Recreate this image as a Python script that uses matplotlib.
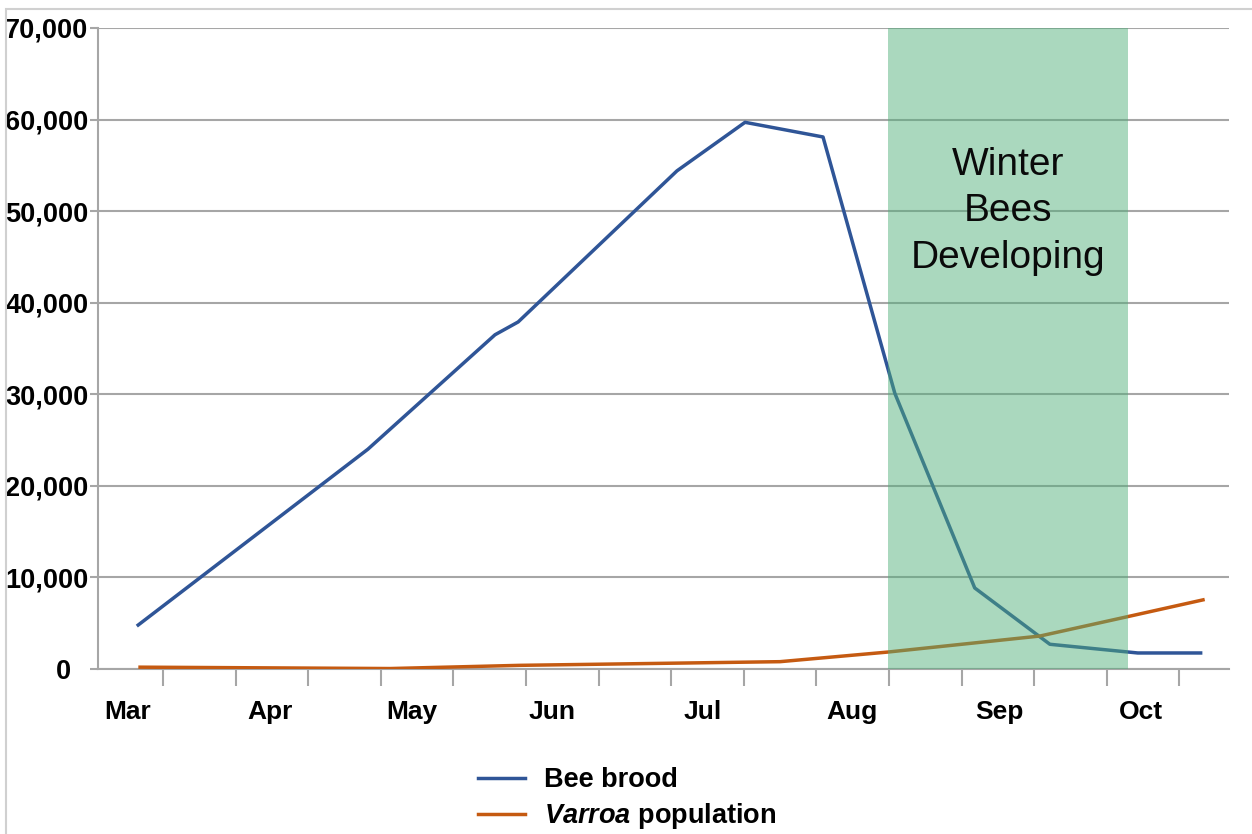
import matplotlib
matplotlib.use("Agg")
import matplotlib.pyplot as plt
from matplotlib.lines import Line2D
from matplotlib.patches import Rectangle
from matplotlib.transforms import ScaledTranslation

plt.rcParams['font.family'] = ['Liberation Sans', 'DejaVu Sans']
plt.rcParams['mathtext.fontset'] = 'custom'
plt.rcParams['mathtext.rm'] = 'Liberation Sans'
plt.rcParams['mathtext.it'] = 'Liberation Sans:italic'
plt.rcParams['mathtext.bf'] = 'Liberation Sans:bold'
plt.rcParams['mathtext.bfit'] = 'Liberation Sans:italic:bold'

# ---- data (x in days from the left edge of the axis) ----
brood_days = [8.5, 57.1, 84.0, 88.9, 122.5, 136.9, 153.4, 168.6, 185.5, 201.4, 220.0, 233.3]
brood_vals = [4800, 24000, 36500, 37900, 54400, 59700, 58100, 30100, 8850, 2700, 1750, 1750]

varroa_days = [8.9, 61.8, 89.3, 144.3, 167.1, 199.3, 217.7, 233.8]
varroa_vals = [200, 50, 400, 800, 1850, 3600, 5700, 7550]

month_labels = ['Mar', 'Apr', 'May', 'Jun', 'Jul', 'Aug', 'Sep', 'Oct']
month_pos = [6.3, 36.4, 66.4, 96.0, 128.0, 159.6, 190.8, 220.7]
tick_days = [13.75 + 15.36 * k for k in range(15)]

yticks = [0, 10000, 20000, 30000, 40000, 50000, 60000, 70000]
ytick_labels = ['0', '10,000', '20,000', '30,000', '40,000', '50,000', '60,000', '70,000']

winter_start, winter_end = 167.1, 217.9
winter_label = 'Winter\nBees\nDeveloping'
series_labels = ['Bee brood', r'$\mathbfit{Varroa}$ population']

BLUE = '#2f5597'
ORANGE = '#c55a11'
GRID = '#a6a6a6'

fig = plt.figure(figsize=(12.52, 8.34), dpi=100)
ax = fig.add_axes([98/1252, 1 - 669/834, (1229-98)/1252, (669-28)/834])

ax.plot(brood_days, brood_vals, color=BLUE, lw=2.5, zorder=3)
ax.plot(varroa_days, varroa_vals, color=ORANGE, lw=2.5, zorder=3)
ax.axvspan(winter_start, winter_end, color='#4fae78', alpha=0.48, lw=0, zorder=4)
ax.text((winter_start + winter_end) / 2, 57000, winter_label, ha='center', va='top',
        fontsize=28, linespacing=1.37, color='#0a0a0a', zorder=5)

ax.set_xlim(0, 239.3)
ax.set_ylim(0, 70000)

ax.set_yticks(yticks)
ax.set_yticklabels(ytick_labels, fontsize=19.5, fontweight='bold')
ax.tick_params(axis='y', length=6, width=1.5, color=GRID, pad=1)

ax.set_xticks(tick_days)
ax.set_xticklabels([])
ax.set_xticks(month_pos, minor=True)
ax.set_xticklabels(month_labels, minor=True, fontsize=19, fontweight='bold')
ax.tick_params(axis='x', which='major', length=12, width=1.5, color=GRID)
ax.tick_params(axis='x', which='minor', length=0, pad=22.5)

ax.grid(axis='y', color=GRID, lw=1.5, zorder=1)
ax.set_axisbelow(True)
for s in ['top', 'right']:
    ax.spines[s].set_visible(False)
for s in ['left', 'bottom']:
    ax.spines[s].set_color(GRID)
    ax.spines[s].set_linewidth(1.5)

# shift the "0" label left as in the reference
t0 = ax.yaxis.get_major_ticks()[0].label1
t0.set_transform(t0.get_transform() + ScaledTranslation(-17/100, 0, fig.dpi_scale_trans))

handles = [Line2D([], [], color=BLUE, lw=2.5), Line2D([], [], color=ORANGE, lw=2.5)]
fig.legend(handles, series_labels, loc='upper center', bbox_to_anchor=(0.5010, 1 - 767/834),
           frameon=False, prop={'size': 19.5, 'weight': 'bold'}, handlelength=1.75,
           handletextpad=0.7, labelspacing=0.3, borderpad=0, borderaxespad=0)

fig.add_artist(Rectangle((6/1252, -0.1), 1.2, (834 - 9)/834 + 0.1, transform=fig.transFigure,
                         fill=False, edgecolor='#d0d0d0', lw=1.5))

fig.savefig('out.png', dpi=100)
